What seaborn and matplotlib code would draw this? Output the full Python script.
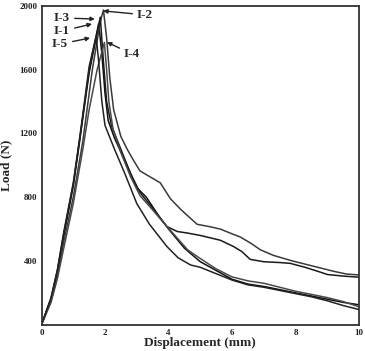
import matplotlib
matplotlib.use("Agg")
import matplotlib.pyplot as plt
import seaborn as sns
import pandas as pd
from matplotlib.ticker import MultipleLocator

# ---- data ----
i1_x = [0, 0.3, 0.5, 0.7, 1.0, 1.2, 1.5, 1.8, 1.9, 2.0, 2.1, 2.3, 2.6, 3.0, 3.3, 3.7, 4.0, 4.5, 5.0, 5.5, 6.0, 6.5, 7.0, 7.5, 8.0, 8.5, 9.0, 9.5, 10.0]
i1_y = [0, 160, 330, 560, 870, 1150, 1600, 1890, 1700, 1450, 1280, 1170, 1040, 860, 800, 680, 600, 480, 395, 340, 285, 255, 240, 220, 200, 180, 160, 140, 125]

i2_x = [0, 0.3, 0.5, 0.7, 1.0, 1.3, 1.6, 1.85, 1.95, 2.05, 2.15, 2.27, 2.5, 2.7, 2.9, 3.1, 3.4, 3.74, 4.06, 4.4, 4.9, 5.3, 5.63, 6.0, 6.26, 6.6, 6.89, 7.3, 7.9, 8.5, 9.2, 9.6, 10.0]
i2_y = [0, 150, 300, 520, 800, 1150, 1600, 1900, 1975, 1800, 1550, 1350, 1180, 1100, 1030, 965, 930, 890, 790, 720, 630, 615, 600, 570, 550, 510, 470, 435, 400, 370, 335, 318, 312]

i3_x = [0, 0.3, 0.5, 0.7, 1.0, 1.2, 1.5, 1.85, 1.95, 2.05, 2.2, 2.5, 2.8, 3.1, 3.5, 3.95, 4.27, 4.6, 5.0, 5.63, 6.05, 6.3, 6.57, 7.0, 7.5, 7.83, 8.3, 8.7, 9.0, 9.5, 10.0]
i3_y = [0, 165, 340, 570, 880, 1160, 1580, 1930, 1650, 1400, 1250, 1100, 950, 830, 730, 616, 585, 575, 560, 530, 490, 460, 410, 395, 390, 385, 360, 335, 315, 305, 298]

i4_x = [0, 0.3, 0.5, 0.7, 1.0, 1.3, 1.5, 1.75, 1.98, 2.05, 2.12, 2.25, 2.5, 2.8, 3.1, 3.5, 3.8, 4.2, 4.6, 5.0, 5.5, 6.0, 6.5, 7.0, 7.5, 8.0, 8.5, 9.0, 9.5, 10.0]
i4_y = [0, 140, 290, 480, 760, 1100, 1350, 1600, 1771, 1600, 1400, 1230, 1080, 930, 810, 720, 650, 560, 470, 415, 350, 300, 275, 260, 235, 210, 190, 170, 145, 112]

i5_x = [0, 0.3, 0.5, 0.7, 1.0, 1.2, 1.5, 1.72, 1.8, 1.9, 2.0, 2.3, 2.6, 3.0, 3.4, 3.95, 4.3, 4.69, 5.0, 5.5, 6.0, 6.5, 7.0, 7.5, 8.0, 8.5, 9.0, 9.5, 10.0]
i5_y = [0, 170, 345, 580, 890, 1170, 1620, 1810, 1650, 1400, 1250, 1100, 960, 760, 630, 490, 420, 375, 360, 320, 280, 250, 235, 215, 195, 175, 150, 120, 95]

names = ["I-1", "I-2", "I-3", "I-4", "I-5"]
xticks = [0, 2, 4, 6, 8, 10]
yticks = [400, 800, 1200, 1600, 2000]

frames = []
for n, xs, ys in zip(names, [i1_x, i2_x, i3_x, i4_x, i5_x], [i1_y, i2_y, i3_y, i4_y, i5_y]):
    frames.append(pd.DataFrame({"x": xs, "y": ys, "specimen": n}))
df = pd.concat(frames, ignore_index=True)

sns.set_style("white")
plt.rcParams["font.family"] = ["Liberation Serif", "DejaVu Serif"]
plt.rcParams["font.weight"] = "bold"

fig = plt.figure(figsize=(3.65, 3.51), dpi=100)
ax = fig.add_axes([0.1137, 0.0749, 0.8703, 0.9081])

palette = {"I-1": "#111111", "I-2": "#3a3a3a", "I-3": "#1a1a1a", "I-4": "#4a4a4a", "I-5": "#222222"}
sns.lineplot(data=df, x="x", y="y", hue="specimen", units="specimen", estimator=None,
             sort=False, palette=palette, linewidth=1.1, legend=False, ax=ax)

ax.set_xlim(0, 10)
ax.set_ylim(0, 2000)
ax.set_xticks(xticks)
ax.set_yticks(yticks)
ax.set_xticklabels([str(t) for t in xticks], fontsize=6.5, fontweight="bold")
ax.set_yticklabels([str(t) for t in yticks], fontsize=6.5, fontweight="bold")
ax.xaxis.set_minor_locator(MultipleLocator(1))
ax.yaxis.set_minor_locator(MultipleLocator(200))
ax.tick_params(which="both", direction="in", width=1.0, colors="#222222")
ax.tick_params(which="major", length=4, pad=3)
ax.tick_params(which="minor", length=3)
for s in ax.spines.values():
    s.set_linewidth(1.3)
    s.set_color("#333333")

ax.set_xlabel("Displacement (mm)", fontsize=9.5, fontweight="bold", labelpad=0)
ax.set_ylabel("Load (N)", fontsize=9.5, fontweight="bold", labelpad=5)

ann = [
    ("I-3", (0.645, 1925), (1.68, 1918)),
    ("I-1", (0.645, 1843), (1.59, 1887)),
    ("I-5", (0.58, 1761), (1.53, 1799)),
    ("I-2", (3.26, 1944), (1.94, 1969)),
    ("I-4", (2.85, 1698), (2.06, 1773)),
]
for lab, txt, head in ann:
    ax.annotate(lab, xy=head, xytext=txt, fontsize=9.5, fontweight="bold", ha="center", va="center",
                arrowprops=dict(arrowstyle="-|>", color="#222222", lw=1.0, mutation_scale=6,
                                shrinkA=1, shrinkB=0))

fig.savefig("out.png", dpi=100)
